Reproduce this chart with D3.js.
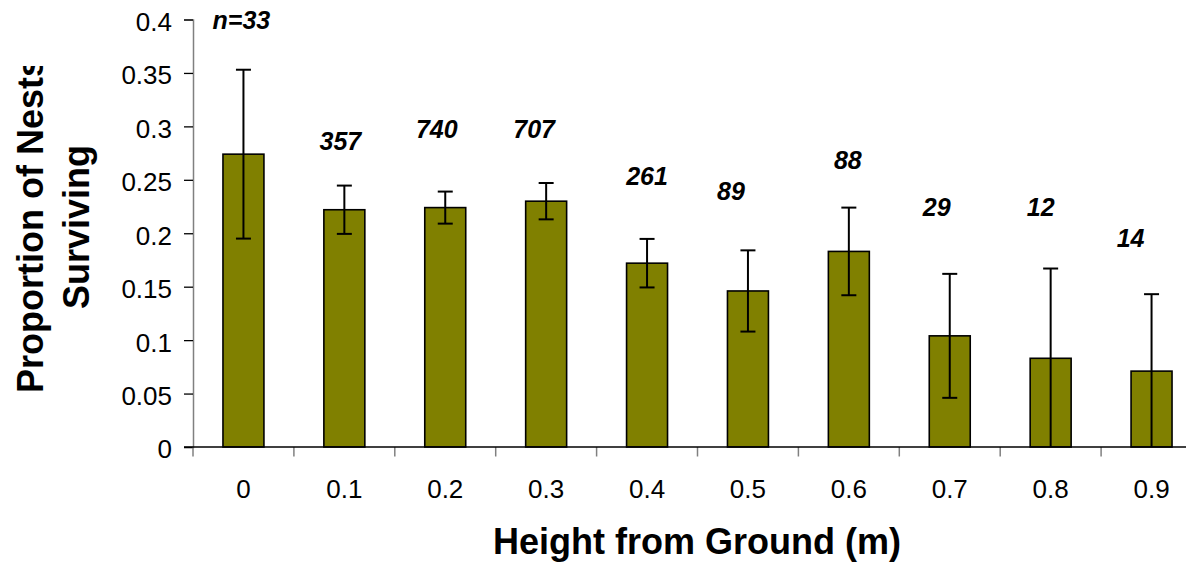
<!DOCTYPE html>
<html>
<head>
<meta charset="utf-8">
<script src="https://cdn.jsdelivr.net/npm/d3@7"></script>
<style>
  html, body { margin: 0; padding: 0; background: #fff; }
  svg { display: block; }
  text { font-family: Arial, "Liberation Sans", sans-serif; }
</style>
</head>
<body>
<svg id="chart" width="1186" height="568"></svg>
<script>
// Nest survival by nest height
const heights = ["0", "0.1", "0.2", "0.3", "0.4", "0.5", "0.6", "0.7", "0.8", "0.9"];
const survival = [0.274, 0.222, 0.224, 0.230, 0.172, 0.146, 0.183, 0.104, 0.083, 0.071];
const errors = [0.079, 0.0226, 0.015, 0.017, 0.0227, 0.038, 0.041, 0.058, 0.084, 0.072];
const sampleLabels = ["n=33", "357", "740", "707", "261", "89", "88", "29", "12", "14"];
const yTicks = [0, 0.05, 0.1, 0.15, 0.2, 0.25, 0.3, 0.35, 0.4];

// where each sample-size note sits: height on the value axis and sideways nudge (px)
const noteLevel = [0.3908, 0.2779, 0.2888, 0.2888, 0.2451, 0.2311, 0.2601, 0.2161, 0.2166, 0.1874];
const noteShift = [-2, -4, -8.5, -12, 0, -17, -1, -13, -10, -21];

const svg = d3.select("#chart");
const plotLeft = 193, axisRight = 1202, plotTop = 19.5, plotBottom = 447;

const x = d3.scaleBand().domain(heights).range([plotLeft, axisRight]).paddingInner(0.594).paddingOuter(0.297);
const y = d3.scaleLinear().domain([0, 0.4]).range([plotBottom, plotTop]);

// bars
svg.append("g").selectAll("rect")
  .data(heights)
  .join("rect")
  .attr("x", d => x(d))
  .attr("y", (d, i) => y(survival[i]))
  .attr("width", x.bandwidth())
  .attr("height", (d, i) => y(0) - y(survival[i]))
  .attr("fill", "#808000")
  .attr("stroke", "#000")
  .attr("stroke-width", 1.6);

// error bars (lower whisker stops at zero)
const eb = svg.append("g").attr("stroke", "#000").attr("stroke-width", 2);
heights.forEach((h, i) => {
  const cx = x(h) + x.bandwidth() / 2;
  const hi = survival[i] + errors[i];
  const lo = Math.max(0, survival[i] - errors[i]);
  eb.append("line").attr("x1", cx).attr("x2", cx).attr("y1", y(hi)).attr("y2", y(lo));
  eb.append("line").attr("x1", cx - 7.5).attr("x2", cx + 7.5).attr("y1", y(hi)).attr("y2", y(hi));
  if (lo > 0) {
    eb.append("line").attr("x1", cx - 7.5).attr("x2", cx + 7.5).attr("y1", y(lo)).attr("y2", y(lo));
  }
});

// y axis
const yAxis = svg.append("g")
  .attr("transform", `translate(${plotLeft},0)`)
  .call(d3.axisLeft(y).tickValues(yTicks).tickSize(9).tickPadding(12).tickFormat(d => String(+d.toFixed(2))));
yAxis.select(".domain").attr("stroke", "#808080").attr("stroke-width", 1.5);
yAxis.selectAll(".tick line").attr("stroke", "#000").attr("stroke-width", 1.3);
yAxis.selectAll(".tick text")
  .attr("font-size", 26).attr("font-family", "Arial, 'Liberation Sans', sans-serif")
  .attr("fill", "#000").attr("dy", "0.42em");

// x axis: ticks at category boundaries
const bounds = d3.range(heights.length + 1).map(i => plotLeft + i * x.step());
const xg = svg.append("g");
xg.selectAll("line.b").data(bounds).join("line")
  .attr("class", "b")
  .attr("x1", d => d).attr("x2", d => d)
  .attr("y1", plotBottom).attr("y2", plotBottom + 9.5)
  .attr("stroke", "#808080").attr("stroke-width", 1.5);
xg.append("line")
  .attr("x1", plotLeft - 9).attr("x2", axisRight)
  .attr("y1", plotBottom).attr("y2", plotBottom)
  .attr("stroke", "#000").attr("stroke-width", 1.5);
xg.selectAll("text").data(heights).join("text")
  .attr("x", d => x(d) + x.bandwidth() / 2)
  .attr("y", 498)
  .attr("text-anchor", "middle")
  .attr("font-size", 26)
  .attr("fill", "#000")
  .text(d => d);

// sample sizes
svg.append("g").selectAll("text")
  .data(sampleLabels)
  .join("text")
  .attr("x", (d, i) => x(heights[i]) + x.bandwidth() / 2 + noteShift[i])
  .attr("y", (d, i) => y(noteLevel[i]))
  .attr("text-anchor", "middle")
  .attr("font-size", 25)
  .attr("font-weight", "bold")
  .attr("font-style", "italic")
  .attr("fill", "#000")
  .text(d => d);

// axis titles
svg.append("text")
  .attr("x", 697).attr("y", 554)
  .attr("text-anchor", "middle")
  .attr("font-size", 36).attr("font-weight", "bold")
  .attr("fill", "#000")
  .text("Height from Ground (m)");

svg.append("clipPath").attr("id", "ytitle-clip")
  .append("rect").attr("x", 0).attr("y", 66).attr("width", 120).attr("height", 420);

const yt = svg.append("g").attr("clip-path", "url(#ytitle-clip)");
yt.append("text")
  .attr("transform", "translate(43,225) rotate(-90)")
  .attr("text-anchor", "middle")
  .attr("font-size", 36).attr("font-weight", "bold")
  .attr("fill", "#000")
  .text("Proportion of Nests");
yt.append("text")
  .attr("transform", "translate(89,227) rotate(-90)")
  .attr("text-anchor", "middle")
  .attr("font-size", 36).attr("font-weight", "bold")
  .attr("fill", "#000")
  .text("Surviving");
</script>
</body>
</html>
